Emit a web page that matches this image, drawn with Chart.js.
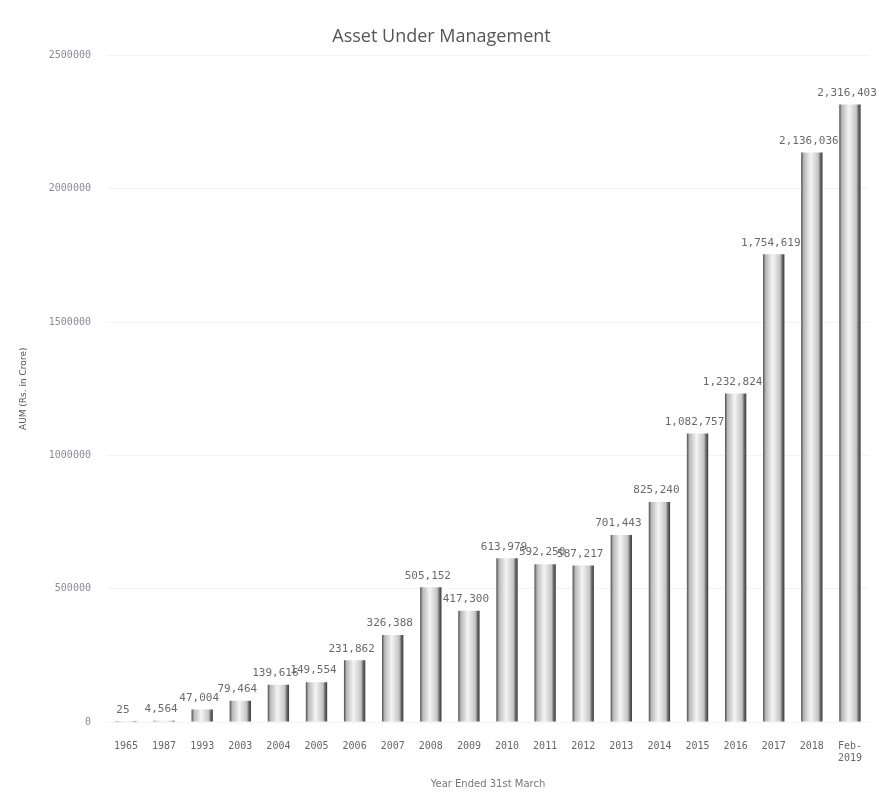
<!DOCTYPE html>
<html>
<head>
<meta charset="utf-8">
<script src="https://cdn.jsdelivr.net/npm/chart.js@4/dist/chart.umd.min.js"></script>
<style>
  body { margin: 0; background: #fff; }
  #wrap { width: 879px; height: 800px; }
</style>
</head>
<body>
<div id="wrap"><canvas id="aumChart" width="879" height="800"></canvas></div>
<script>
const years = ["1965", "1987", "1993", "2003", "2004", "2005", "2006", "2007", "2008", "2009",
  "2010", "2011", "2012", "2013", "2014", "2015", "2016", "2017", "2018", ["Feb-", "2019"]];
const aumValues = [25, 4564, 47004, 79464, 139616, 149554, 231862, 326388, 505152, 417300,
  613979, 592250, 587217, 701443, 825240, 1082757, 1232824, 1754619, 2136036, 2316403];
const yTicks = [0, 500000, 1000000, 1500000, 2000000, 2500000];

const catPct = 0.8;
const barPct = 0.7;

// cylinder look: dark edges, light middle
function barGradient(context) {
  const chart = context.chart;
  if (!chart.chartArea || !chart.scales.x) return "#d8d8d8";
  const x = chart.scales.x.getPixelForValue(context.dataIndex);
  const w = (chart.chartArea.width / years.length) * catPct * barPct;
  const g = chart.ctx.createLinearGradient(x - w / 2, 0, x + w / 2, 0);
  g.addColorStop(0, "#4a4a4a");
  g.addColorStop(0.12, "#b8b8b8");
  g.addColorStop(0.45, "#f4f4f4");
  g.addColorStop(0.8, "#c4c4c4");
  g.addColorStop(0.9, "#6a6a6a");
  g.addColorStop(1, "#3a3a3a");
  return g;
}

const valueLabels = {
  id: "valueLabels",
  afterDatasetsDraw(chart) {
    const ctx = chart.ctx;
    const meta = chart.getDatasetMeta(0);
    ctx.save();
    ctx.font = "11px 'DejaVu Sans Mono', monospace";
    ctx.fillStyle = "#6a6a6a";
    ctx.textAlign = "center";
    ctx.textBaseline = "bottom";
    meta.data.forEach((bar, i) => {
      ctx.fillText(aumValues[i].toLocaleString("en-US"), bar.x - 3, bar.y - 6);
    });
    ctx.restore();
  }
};

new Chart(document.getElementById("aumChart"), {
  type: "bar",
  data: {
    labels: years,
    datasets: [{
      data: aumValues,
      backgroundColor: barGradient,
      borderWidth: 0,
      categoryPercentage: catPct,
      barPercentage: barPct
    }]
  },
  options: {
    responsive: false,
    animation: false,
    layout: { padding: { top: 26, right: 10, left: 14, bottom: 6 } },
    plugins: {
      legend: { display: false },
      tooltip: { enabled: false },
      title: {
        display: true,
        text: "Asset Under Management",
        color: "#555",
        font: { family: "'Open Sans'", size: 18, weight: "normal" },
        padding: { top: 0, bottom: 8 }
      }
    },
    scales: {
      x: {
        grid: { display: false },
        border: { display: false },
        ticks: {
          color: "#666",
          font: { family: "'DejaVu Sans Mono'", size: 10 },
          maxRotation: 0,
          autoSkip: false,
          padding: 10
        },
        title: {
          display: true,
          text: "Year Ended 31st March",
          color: "#777",
          font: { family: "'DejaVu Sans'", size: 10 },
          padding: { top: 4 }
        }
      },
      y: {
        min: 0,
        max: 2500000,
        afterBuildTicks(axis) {
          axis.ticks = yTicks.map(v => ({ value: v }));
        },
        grid: { color: "#f2f2f2", drawTicks: false },
        border: { display: false },
        ticks: {
          color: "#8a8a9a",
          font: { family: "'DejaVu Sans Mono'", size: 10 },
          padding: 16,
          callback: v => String(v)
        },
        title: {
          display: true,
          text: "AUM (Rs. in Crore)",
          color: "#555",
          font: { family: "'DejaVu Sans'", size: 9 },
          padding: { bottom: 4 }
        }
      }
    }
  },
  plugins: [valueLabels]
});
</script>
</body>
</html>
